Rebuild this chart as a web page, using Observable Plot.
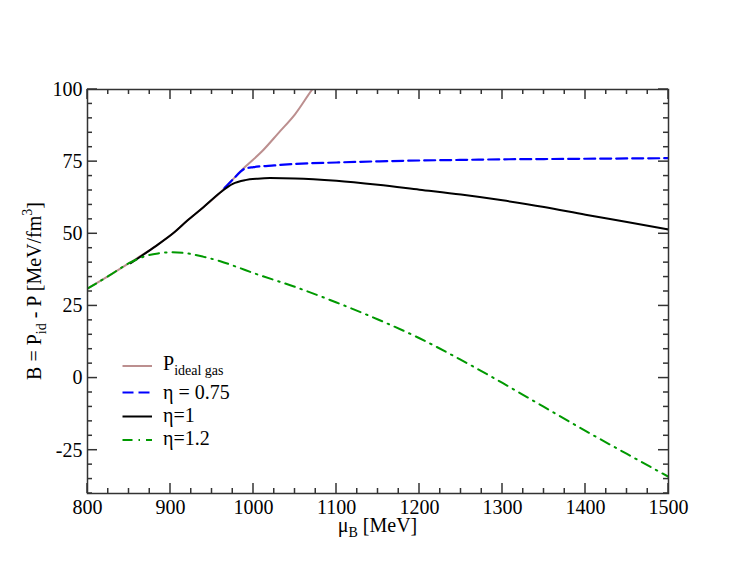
<!DOCTYPE html>
<html><head><meta charset="utf-8">
<script src="https://cdn.jsdelivr.net/npm/d3@7"></script>
<script src="https://cdn.jsdelivr.net/npm/@observablehq/plot@0.6"></script>
<style>
body{margin:0;background:#fff;}
#chart{width:752px;height:581px;}
#chart svg text, #chart svg tspan{font-family:"Liberation Serif","Times New Roman",Times,serif !important;}
</style>
</head><body><div id="chart"></div>
<script>
// --- data ---
const idealX = [800, 825, 850, 880, 905, 920, 940, 960, 975, 990, 1010, 1030, 1050, 1072, 1085];
const idealY = [31, 35.3, 39.8, 45.3, 50.6, 54.5, 59.3, 64.3, 68.8, 73.2, 78.5, 84.9, 91.4, 100.5, 105];

const eta075X = [965, 975, 990, 1000, 1025, 1050, 1100, 1150, 1200, 1250, 1300, 1350, 1400, 1450, 1500];
const eta075Y = [65.8, 68.8, 72.6, 73.1, 73.7, 74.2, 74.7, 75.1, 75.4, 75.6, 75.8, 75.9, 76.0, 76.1, 76.2];

const eta1X = [852, 880, 905, 920, 940, 960, 975, 990, 1005, 1020, 1050, 1100, 1150, 1200, 1250, 1300, 1350, 1400, 1450, 1500];
const eta1Y = [39.8, 45.3, 50.6, 54.5, 59.3, 64.3, 67.3, 68.6, 69.1, 69.3, 69.2, 68.4, 67.0, 65.3, 63.6, 61.6, 59.3, 56.6, 54.1, 51.5];

const eta12X = [800, 825, 850, 870, 885, 900, 920, 940, 960, 980, 1000, 1050, 1100, 1150, 1200, 1250, 1300, 1350, 1400, 1450, 1500];
const eta12Y = [31, 35.3, 39.8, 42.3, 43.2, 43.6, 43.2, 42.0, 40.5, 38.5, 36.4, 31.6, 26.2, 20.3, 13.8, 6.3, -1.7, -10.0, -18.3, -26.3, -34.2];

const xTicks = [800, 900, 1000, 1100, 1200, 1300, 1400, 1500];
const yTicks = [-25, 0, 25, 50, 75, 100];

// --- tables ---
const toRows = (xs, ys) => xs.map((x, i) => ({x, y: ys[i]}));
const ideal = toRows(idealX, idealY);
const e075 = toRows(eta075X, eta075Y);
const e1 = toRows(eta1X, eta1Y);
const e12 = toRows(eta12X, eta12Y);

const xMinor = d3.range(800, 1501, 25).filter(v => v % 100 !== 0);
const yMinor = d3.range(-40, 101, 5).filter(v => v % 25 !== 0);

const W = 752, H = 581, mL = 87, mR = 84, mT = 89, mB = 88;
const fw = W - mL - mR, fh = H - mT - mB;
const FF = "Liberation Serif, Times New Roman, serif";

const plot = Plot.plot({
  width: W, height: H,
  marginLeft: mL, marginRight: mR, marginTop: mT, marginBottom: mB,
  style: {fontSize: "20px", background: "#fff", color: "#000"},
  x: {domain: [800, 1500]},
  y: {domain: [-40, 100]},
  marks: [
    Plot.line(ideal, {x: "x", y: "y", stroke: "#bc8f8f", strokeWidth: 2, clip: true, curve: "monotone-x"}),
    Plot.line(e075, {x: "x", y: "y", stroke: "#0000ff", strokeWidth: 2.2, strokeDasharray: "11,5", clip: true, curve: "monotone-x"}),
    Plot.line(e1, {x: "x", y: "y", stroke: "#000", strokeWidth: 2, clip: true, curve: "monotone-x"}),
    Plot.line(e12, {x: "x", y: "y", stroke: "#009900", strokeWidth: 2, strokeDasharray: "10,6,1.5,6", clip: true, curve: "monotone-x"}),
    Plot.frame({stroke: "#333", strokeWidth: 1.5}),
    Plot.axisX({ticks: xTicks, anchor: "bottom", tickSize: 0, tickPadding: 6.5, fontSize: 20, fontFamily: FF, fill: "#000", tickFormat: d => String(d), label: null}),
    Plot.axisY({ticks: yTicks, anchor: "left", tickSize: 0, tickPadding: 5, fontSize: 20, fontFamily: FF, fill: "#000", tickFormat: d => String(d), label: null})
  ]
});
document.getElementById("chart").append(plot);

const svg = d3.select(plot);
const sx = plot.scale("x"), sy = plot.scale("y");
const x0 = mL, x1 = W - mR, y0 = mT, y1 = H - mB;

// inward ticks on all four sides, placed with the plot's own scales
function tick(xa, ya, xb, yb) {
  svg.append("line").attr("x1", xa).attr("y1", ya).attr("x2", xb).attr("y2", yb)
    .attr("stroke", "#333").attr("stroke-width", 1.5);
}
for (const [vals, len] of [[xTicks, 10], [xMinor, 5]]) {
  for (const v of vals) {
    const px = sx.apply(v);
    tick(px, y1, px, y1 - len);
    tick(px, y0, px, y0 + len);
  }
}
for (const [vals, len] of [[yTicks, 10], [yMinor, 5]]) {
  for (const v of vals) {
    const py = sy.apply(v);
    tick(x0, py, x0 + len, py);
    tick(x1, py, x1 - len, py);
  }
}

// x-axis label
const xl = svg.append("text").attr("x", mL + fw / 2).attr("y", 532).attr("text-anchor", "middle")
  .attr("font-size", 20).attr("fill", "#000");
xl.append("tspan").text("μ");
xl.append("tspan").attr("font-size", 14).attr("dy", 5).text("B");
xl.append("tspan").attr("dy", -5).text(" [MeV]");
// y-axis label
const yl = svg.append("text").attr("transform", `translate(41,${mT + fh / 2}) rotate(-90)`).attr("text-anchor", "middle")
  .attr("font-size", 20).attr("fill", "#000");
yl.append("tspan").text("B = P");
yl.append("tspan").attr("font-size", 14).attr("dy", 5).text("id");
yl.append("tspan").attr("dy", -5).text(" - P [MeV/fm");
yl.append("tspan").attr("font-size", 14).attr("dy", -9).text("3");
yl.append("tspan").attr("dy", 9).text("]");

// legend
const legend = [
  {main: "P", sub: "ideal gas", stroke: "#bc8f8f", dash: null, ly: 366, ty: 370},
  {main: "η = 0.75", sub: null, stroke: "#0000ff", dash: "11,5", ly: 392.5, ty: 398.5},
  {main: "η=1", sub: null, stroke: "#000", dash: null, ly: 416.5, ty: 422},
  {main: "η=1.2", sub: null, stroke: "#009900", dash: "10,6,1.5,6", ly: 440, ty: 445}
];
for (const e of legend) {
  const ln = svg.append("line").attr("x1", 122.5).attr("x2", 152).attr("y1", e.ly).attr("y2", e.ly)
    .attr("stroke", e.stroke).attr("stroke-width", 2);
  if (e.dash) ln.attr("stroke-dasharray", e.dash);
  const t = svg.append("text").attr("x", 163).attr("y", e.ty).attr("text-anchor", "start")
    .attr("font-size", 20).attr("fill", "#000");
  t.append("tspan").text(e.main);
  if (e.sub) t.append("tspan").attr("font-size", 14).attr("dy", 5).text(e.sub);
}
// serif font on every text element directly
svg.selectAll("text").attr("font-family", FF);
</script>
</body></html>
